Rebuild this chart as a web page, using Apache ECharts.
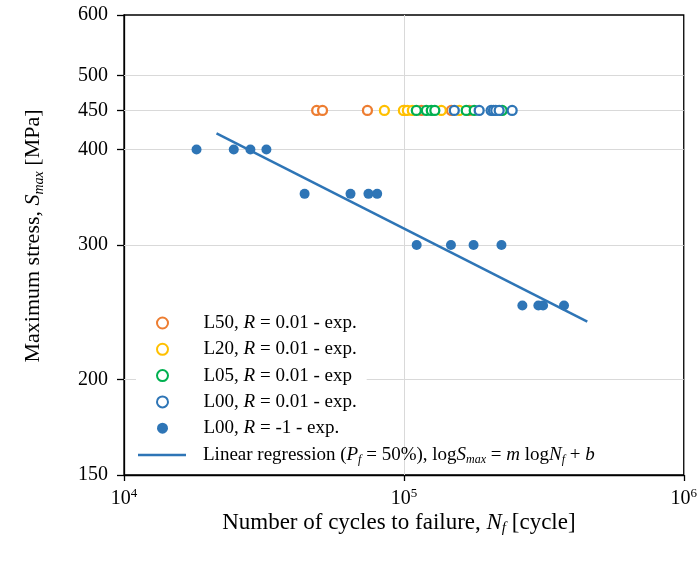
<!DOCTYPE html>
<html><head><meta charset="utf-8">
<script src="https://cdn.jsdelivr.net/npm/echarts@6/dist/echarts.min.js"></script>
<style>html,body{margin:0;padding:0;background:#fff}#c{width:700px;height:562px}</style>
</head><body><div id="c"></div>
<script>
// L50, R = 0.01 (open orange)
const l50N = [48800, 51200, 74100, 100500, 115500, 147800, 171200];
const l50S = [450, 450, 450, 450, 450, 450, 450];
// L20, R = 0.01 (open yellow)
const l20N = [85200, 99600, 102900, 107200, 136100, 157700];
const l20S = [450, 450, 450, 450, 450, 450];
// L05, R = 0.01 (open green)
const l05N = [110800, 120300, 125300, 129000, 167000, 178400, 224500];
const l05S = [450, 450, 450, 450, 450, 450, 450];
// L00, R = 0.01 (open blue)
const l00N = [151400, 185800, 205000, 209000, 213000, 219000, 243700];
const l00S = [450, 450, 450, 450, 450, 450, 450];
// L00, R = -1 (filled blue)
const lm1N = [18160, 24670, 28290, 32270, 44190, 64460, 74720, 80280, 111100, 147300, 177400, 223200, 265100, 302400, 314300, 373400];
const lm1S = [400, 400, 400, 400, 350, 350, 350, 350, 300, 300, 300, 300, 250, 250, 250, 250];
// Linear regression end points
const regN = [21410, 452200];
const regS = [420.1, 238.1];
// Axis ticks / grid
const yTickValues = [150, 200, 300, 400, 450, 500, 600];
const yGridValues = [200, 300, 400, 450, 500];
const xGridValues = [100000];

const seriesNames = [
  'L50, R = 0.01 - exp.',
  'L20, R = 0.01 - exp.',
  'L05, R = 0.01 - exp',
  'L00, R = 0.01 - exp.',
  'L00, R = -1 - exp.',
  'Linear regression (Pf = 50%), logSmax = m logNf + b'
];
const legendRich = {};
legendRich[seriesNames[0]] = 'L50, {i|R} = 0.01 - exp.';
legendRich[seriesNames[1]] = 'L20, {i|R} = 0.01 - exp.';
legendRich[seriesNames[2]] = 'L05, {i|R} = 0.01 - exp';
legendRich[seriesNames[3]] = 'L00, {i|R} = 0.01 - exp.';
legendRich[seriesNames[4]] = 'L00, {i|R} = -1 - exp.';
legendRich[seriesNames[5]] = 'Linear regression ({i|P}{isub|f} = 50%), log{i|S}{isub|max} = {i|m} log{i|N}{isub|f} + {i|b}';

const FONT = '"Liberation Serif", "Times New Roman", serif';
function pairs(xs, ys) { return xs.map((x, i) => [x, ys[i]]); }
function rich(fs) {
  return {
    i: { fontFamily: FONT, fontSize: fs, fontStyle: 'italic', color: '#000' },
    isub: { fontFamily: FONT, fontSize: Math.round(fs * 0.65), fontStyle: 'italic', color: '#000', verticalAlign: 'bottom', lineHeight: 13 },
    sup: { fontFamily: FONT, fontSize: Math.round(fs * 0.65), color: '#000', verticalAlign: 'top', lineHeight: 13 }
  };
}
const ORANGE = '#ED7D31', YELLOW = '#FFC000', GREEN = '#00B050', BLUE = '#2E75B6';
function openSeries(name, xs, ys, color) {
  return {
    name, type: 'scatter', data: pairs(xs, ys), symbol: 'circle', symbolSize: 9,
    itemStyle: { color: '#fff', borderColor: color, borderWidth: 2.3, opacity: 1 }
  };
}
const legendText = { fontFamily: FONT, fontSize: 19, color: '#000', lineHeight: 22, padding: [0, 0, 0, 12], rich: rich(19) };

const chart = echarts.init(document.getElementById('c'));
chart.setOption({
  animation: false,
  backgroundColor: '#fff',
  grid: { left: 124, right: 15, top: 15, bottom: 87, show: true, borderColor: '#000', borderWidth: 1.3, backgroundColor: 'transparent' },
  xAxis: {
    type: 'log', logBase: 10, min: 10000, max: 1000000,
    name: 'Number of cycles to failure, {i|N}{isub|f} [cycle]',
    nameLocation: 'middle', nameGap: 34, nameMoveOverlap: false,
    nameTextStyle: { fontFamily: FONT, fontSize: 23, color: '#000', lineHeight: 27, padding: [0, 10, 0, 0], rich: rich(23) },
    axisLine: { lineStyle: { color: '#000', width: 1.3 } },
    axisTick: { show: true, length: 6, inside: false, lineStyle: { color: '#000', width: 1.3 } },
    minorTick: { show: false },
    splitLine: { show: false },
    axisLabel: {
      margin: 12, fontFamily: FONT, fontSize: 20, color: '#000', lineHeight: 24,
      formatter: v => '10{sup|' + Math.round(Math.log10(v)) + '}',
      rich: rich(20)
    }
  },
  yAxis: {
    type: 'log', logBase: 10, min: 150, max: 600,
    name: 'Maximum stress, {i|S}{isub|max} [MPa]',
    nameLocation: 'middle', nameGap: 78, nameRotate: 90,
    nameTextStyle: { fontFamily: FONT, fontSize: 22, color: '#000', lineHeight: 26, padding: [0, 0, 0, 18], rich: rich(22) },
    axisLine: { show: true, lineStyle: { color: '#000', width: 1.3 } },
    axisTick: { show: true, length: 7, customValues: yTickValues, lineStyle: { color: '#000', width: 1.3 } },
    splitLine: { show: false },
    axisLabel: { margin: 16, fontFamily: FONT, fontSize: 20, color: '#000', customValues: yTickValues, formatter: v => String(Math.round(v)) }
  },
  legend: [
    {
      orient: 'vertical', left: 136, top: 309, z: 6,
      data: seriesNames.slice(0, 5).map(n => ({ name: n, icon: 'circle' })),
      backgroundColor: '#fff',
      padding: [3, 10, 3, 20],
      itemWidth: 48, itemHeight: 11, itemGap: 4.3,
      textStyle: legendText,
      formatter: name => legendRich[name]
    },
    {
      orient: 'vertical', left: 138, top: 444, z: 6,
      data: [{ name: seriesNames[5], icon: 'path://M0,0H100V5.2H0Z' }],
      padding: 0,
      itemWidth: 48, itemHeight: 11,
      textStyle: legendText,
      formatter: name => legendRich[name]
    }
  ],
  series: [
    {
      name: 'grid', type: 'line', data: [], silent: true, z: 1,
      markLine: {
        z: 1, silent: true, symbol: 'none', animation: false,
        lineStyle: { color: '#d9d9d9', width: 1, type: 'solid' },
        label: { show: false },
        data: yGridValues.map(v => ({ yAxis: v })).concat(xGridValues.map(v => ({ xAxis: v })))
      }
    },
    openSeries(seriesNames[0], l50N, l50S, ORANGE),
    openSeries(seriesNames[1], l20N, l20S, YELLOW),
    openSeries(seriesNames[2], l05N, l05S, GREEN),
    openSeries(seriesNames[3], l00N, l00S, BLUE),
    {
      name: seriesNames[4], type: 'scatter', data: pairs(lm1N, lm1S), symbol: 'circle', symbolSize: 10,
      itemStyle: { color: BLUE, opacity: 1 }
    },
    {
      name: seriesNames[5], type: 'line', data: pairs(regN, regS), symbol: 'none', showSymbol: false,
      lineStyle: { color: BLUE, width: 2.5 }, itemStyle: { color: BLUE }
    }
  ]
});
</script>
</body></html>
